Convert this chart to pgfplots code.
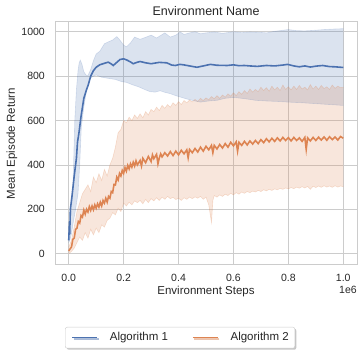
\documentclass[border=0pt]{standalone}
\usepackage{fontspec}
\setmainfont{Liberation Sans}
\usepackage{pgfplots}
\pgfplotsset{compat=1.18}
\usepgfplotslibrary{fillbetween}
\usetikzlibrary{shadows}
\definecolor{sblue}{RGB}{76,114,176}
\definecolor{sorange}{RGB}{221,132,82}
\definecolor{gridc}{RGB}{204,204,204}
\definecolor{txt}{RGB}{38,38,38}
\begin{document}
\begin{tikzpicture}
\begin{axis}[
  at={(55pt,90pt)}, anchor=south west,
  width=302pt, height=243pt, scale only axis,
  xmin=-0.05, xmax=1.05, ymin=-51, ymax=1044,
  clip mode=individual,
  xtick={0,0.2,0.4,0.6,0.8,1.0},
  xticklabels={0.0,0.2,0.4,0.6,0.8,1.0},
  ytick={0,200,400,600,800,1000},
  /pgf/number format/assume math mode=true,
  /pgf/number format/1000 sep={},
  major tick length=0pt,
  grid=major,
  major grid style={draw=gridc, line width=0.8pt},
  axis line style={draw=gridc, line width=1pt},
  tick label style={font=\fontsize{10.5}{12}\selectfont, text=txt, inner sep=0pt},
  xticklabel style={anchor=base, yshift=-16.7pt},
  yticklabel style={anchor=east, xshift=-10pt},
  title={Environment Name},
  title style={font=\fontsize{12.5}{14}\selectfont, text=txt, at={(axis description cs:0.5,1)}, anchor=base, inner sep=0pt},
  xlabel={Environment Steps},
  ylabel={Mean Episode Return},
  label style={font=\fontsize{11.5}{13}\selectfont, text=txt, inner sep=0pt},
  xlabel style={at={(axis description cs:0.5,0)}, anchor=center, yshift=-27pt},
  ylabel style={at={(axis description cs:0,0.5)}, anchor=center, yshift=43pt},
  legend columns=2,
  legend image code/.code={\draw[#1] (0pt,0pt) -- (25pt,0pt);},
  legend style={
    at={(axis description cs:0.414,0)}, anchor=north, yshift=-62pt,
    draw=gridc, rounded corners=2pt, fill=white,
    drop shadow={shadow xshift=1.5pt, shadow yshift=-1.5pt, opacity=0.45, fill=gray},
    inner xsep=6pt, inner ysep=5pt,
    font=\fontsize{11.5}{13}\selectfont, text=txt,
    nodes={inner sep=0pt, text height=8.5pt, text depth=2.5pt},
    /tikz/every odd column/.append style={column sep=12pt},
    /tikz/every even column/.append style={column sep=24pt},
  },
]
% ---------------- Algorithm 1 band ----------------
\addplot[name path=bu, draw=sblue, draw opacity=0.2, line width=0.6pt, forget plot] table {
0 120
0.004 140
0.01 200
0.016 330
0.022 600
0.028 740
0.034 827
0.038 860
0.042 872
0.048 855
0.055 820
0.063 805
0.07 803
0.08 830
0.09 870
0.1 900
0.113 912
0.13 946
0.145 955
0.16 963
0.175 978
0.185 965
0.2 940
0.21 932
0.225 950
0.24 976
0.26 966
0.28 975
0.3 985
0.32 972
0.35 995
0.37 976
0.39 985
0.406 999
0.42 988
0.44 995
0.46 1000
0.48 991
0.5 995
0.53 999
0.56 993
0.6 1000
0.63 996
0.66 999
0.7 997
0.72 995
0.75 1002
0.8 1010
0.83 1005
0.86 1004
0.9 1007
0.93 1010
0.96 1012
1.0 1014
};
\addplot[name path=bl, draw=sblue, draw opacity=0.2, line width=0.6pt, forget plot] table {
0 50
0.004 60
0.01 90
0.016 137
0.025 200
0.034 272
0.04 400
0.046 572
0.055 660
0.065 737
0.077 790
0.09 800
0.1 805
0.12 795
0.144 790
0.17 785
0.193 775
0.21 772
0.23 762
0.254 752
0.28 738
0.296 730
0.315 728
0.333 734
0.35 727
0.37 721
0.39 712
0.406 706
0.43 697
0.46 688
0.48 683
0.51 688
0.54 691
0.57 700
0.6 704
0.63 700
0.66 695
0.68 691
0.72 688
0.76 686
0.8 683
0.85 680
0.9 676
0.95 672
1.0 668
};
\addplot[fill=sblue, fill opacity=0.2, draw=none, forget plot] fill between[of=bu and bl];
% ---------------- Algorithm 2 band ----------------
\addplot[name path=ou, draw=sorange, draw opacity=0.25, line width=0.6pt, forget plot] table {
0 30
0.01 60
0.02 120
0.03 190
0.04 230
0.05 270
0.06 290
0.07 310
0.08 280
0.09 345
0.10 320
0.11 360
0.12 330
0.13 380
0.14 350
0.15 400
0.16 430
0.17 480
0.18 545
0.19 560
0.20 600
0.21 590
0.22 615
0.23 600
0.24 625
0.25 610
0.26 630
0.27 612
0.28 640
0.29 625
0.30 650
0.31 640
0.32 660
0.33 645
0.34 668
0.35 655
0.36 672
0.37 660
0.38 680
0.39 668
0.40 685
0.41 672
0.42 690
0.43 680
0.44 692
0.45 684
0.46 695
0.47 686
0.48 700
0.49 690
0.50 702
0.51 694
0.52 708
0.53 698
0.54 712
0.55 700
0.56 715
0.57 705
0.58 720
0.59 710
0.60 725
0.61 712
0.62 730
0.63 718
0.64 735
0.65 722
0.66 742
0.67 728
0.68 740
0.69 730
0.70 750
0.71 735
0.72 748
0.73 732
0.74 755
0.75 738
0.76 750
0.77 735
0.78 760
0.79 740
0.80 752
0.81 738
0.82 755
0.83 740
0.84 758
0.85 742
0.86 750
0.87 738
0.88 762
0.89 742
0.90 755
0.91 740
0.92 758
0.93 744
0.94 752
0.95 740
0.96 760
0.97 745
0.98 755
0.99 748
1.00 750
};
\addplot[name path=ol, draw=sorange, draw opacity=0.25, line width=0.6pt, forget plot] table {
0 0
0.01 10
0.02 25
0.03 50
0.04 75
0.05 60
0.06 95
0.07 70
0.08 110
0.09 85
0.10 115
0.11 95
0.12 130
0.13 120
0.14 150
0.15 160
0.16 185
0.17 175
0.18 205
0.19 190
0.20 228
0.21 215
0.22 232
0.23 220
0.24 238
0.25 230
0.26 240
0.27 225
0.28 245
0.29 230
0.30 248
0.31 238
0.32 252
0.33 240
0.34 255
0.35 245
0.36 258
0.37 248
0.38 254
0.39 244
0.40 250
0.41 240
0.42 252
0.43 245
0.44 255
0.45 248
0.46 256
0.47 250
0.48 258
0.49 245
0.50 255
0.51 220
0.52 140
0.525 240
0.53 262
0.54 255
0.55 265
0.56 258
0.57 268
0.58 262
0.59 272
0.60 265
0.61 275
0.62 268
0.63 278
0.64 272
0.65 280
0.66 275
0.67 282
0.68 278
0.69 285
0.70 280
0.71 288
0.72 283
0.73 290
0.74 285
0.75 292
0.76 288
0.77 294
0.78 290
0.79 296
0.80 292
0.81 298
0.82 293
0.83 300
0.84 295
0.85 302
0.86 296
0.87 303
0.88 290
0.89 304
0.90 298
0.91 305
0.92 299
0.93 306
0.94 300
0.95 305
0.96 299
0.97 306
0.98 300
0.99 305
1.00 302
};
\addplot[fill=sorange, fill opacity=0.2, draw=none, forget plot] fill between[of=ou and ol];
% ---------------- Means ----------------
\addplot[sblue, line width=1.6pt] table {
0 60
0.002 120
0.004 110
0.006 200
0.012 260
0.02 350
0.028 430
0.032 503
0.037 542
0.045 620
0.055 700
0.065 740
0.071 760
0.08 800
0.09 825
0.1 840
0.113 851
0.13 858
0.144 863
0.155 855
0.162 848
0.175 862
0.187 875
0.2 878
0.211 873
0.225 864
0.235 856
0.248 862
0.26 866
0.28 860
0.30 856
0.33 862
0.357 860
0.375 850
0.388 848
0.405 853
0.418 851
0.44 846
0.467 840
0.49 846
0.516 853
0.54 849
0.577 848
0.6 851
0.62 847
0.64 848
0.66 846
0.687 844
0.72 848
0.75 846
0.78 850
0.797 853
0.82 846
0.84 842
0.86 846
0.88 841
0.9 845
0.925 848
0.95 843
0.97 842
1.0 839
};
\addlegendentry{Algorithm 1}
\addplot[sorange, line width=1.6pt] table {
0.00 12
0.005 22
0.01 30
0.015 65
0.02 70
0.025 110
0.03 115
0.035 145
0.04 138
0.045 172
0.05 165
0.055 196
0.06 178
0.065 200
0.07 188
0.075 212
0.08 195
0.085 215
0.09 198
0.095 220
0.10 205
0.105 225
0.11 210
0.115 232
0.12 215
0.125 240
0.13 228
0.135 250
0.14 232
0.145 258
0.15 250
0.155 280
0.16 275
0.165 312
0.17 310
0.175 345
0.18 332
0.185 362
0.19 350
0.195 375
0.20 362
0.205 388
0.21 372
0.215 398
0.22 382
0.225 405
0.23 390
0.235 412
0.24 395
0.245 418
0.25 400
0.26 420
0.265 395
0.27 430
0.28 410
0.29 438
0.30 415
0.305 445
0.31 428
0.32 448
0.325 405
0.33 432
0.335 450
0.34 436
0.35 455
0.36 440
0.37 460
0.38 442
0.39 462
0.40 445
0.41 466
0.42 450
0.43 468
0.435 432
0.44 470
0.45 455
0.46 474
0.47 458
0.48 480
0.49 462
0.50 484
0.51 468
0.52 488
0.525 455
0.53 488
0.54 472
0.55 492
0.56 476
0.57 496
0.58 480
0.59 502
0.60 486
0.61 504
0.615 462
0.62 502
0.63 488
0.64 506
0.65 490
0.66 508
0.67 494
0.68 510
0.69 496
0.70 514
0.71 500
0.72 518
0.73 504
0.74 520
0.75 506
0.76 522
0.77 508
0.78 524
0.79 510
0.80 523
0.81 508
0.82 524
0.83 510
0.84 522
0.85 506
0.86 524
0.865 470
0.87 522
0.88 508
0.89 524
0.90 510
0.91 525
0.92 512
0.93 526
0.94 511
0.95 527
0.96 514
0.97 526
0.98 512
0.99 528
1.00 520
};
\addlegendentry{Algorithm 2}
\node[font=\fontsize{10.5}{12}\selectfont, text=txt, inner sep=0pt, anchor=center, yshift=-25pt] at (axis description cs:0.97,0) {1e6};
\end{axis}
\pgfresetboundingbox
\path (0,0) rectangle (362pt,355pt);
\end{tikzpicture}
\end{document}
